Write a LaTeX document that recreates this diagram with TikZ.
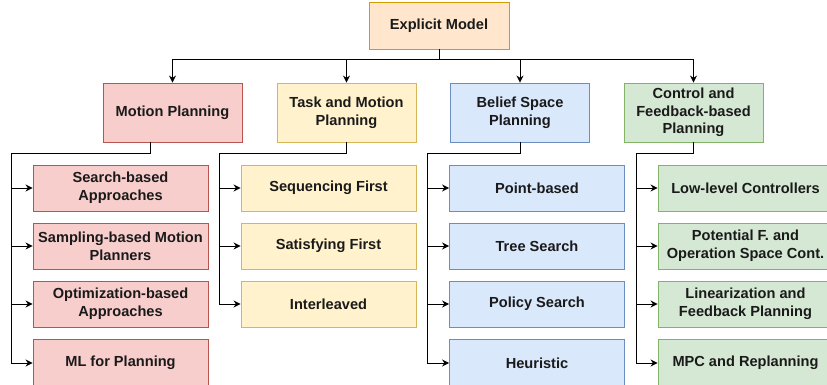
\documentclass[tikz,border=0pt]{standalone}
\usepackage{fontspec}
\setmainfont{Liberation Sans}
\usetikzlibrary{arrows.meta}
\definecolor{rfill}{HTML}{F8CECC}\definecolor{rdraw}{HTML}{B85450}
\definecolor{yfill}{HTML}{FFF2CC}\definecolor{ydraw}{HTML}{D6B656}
\definecolor{bfill}{HTML}{DAE8FC}\definecolor{bdraw}{HTML}{6C8EBF}
\definecolor{gfill}{HTML}{D5E8D4}\definecolor{gdraw}{HTML}{82B366}
\definecolor{ofill}{HTML}{FFE6CC}\definecolor{odraw}{HTML}{D79B00}
\definecolor{txt}{HTML}{1A1A1A}
\begin{document}
\begin{tikzpicture}[x=1pt,y=1pt,
  box/.style={draw, line width=0.9pt, inner sep=0pt, align=center, text=txt,
    font=\fontsize{14.6}{17.6}\selectfont\bfseries},
  red/.style={box, fill=rfill, draw=rdraw},
  yel/.style={box, fill=yfill, draw=ydraw},
  blu/.style={box, fill=bfill, draw=bdraw},
  grn/.style={box, fill=gfill, draw=gdraw},
  top/.style={minimum width=139pt, minimum height=59pt},
  leaf/.style={minimum width=175pt, minimum height=46pt},
  last/.style={minimum width=175pt, minimum height=48pt},
  arr/.style={line width=1pt, draw=black, -{Stealth[length=7pt,width=7pt]}}]
\useasboundingbox (0,0) rectangle (827,-385);
\fill[white] (0,0) rectangle (827,-385);
% root
\node[box, fill=ofill, draw=odraw, minimum width=140pt, minimum height=47pt] (root) at (439,-25.5) {Explicit Model};
% level 1
\node[red, top] (mp) at (172.5,-112.5) {Motion Planning};
\node[yel, top] (tmp) at (346.5,-112.5) {Task and Motion\\Planning};
\node[blu, top] (bsp) at (520,-112.5) {Belief Space\\Planning};
\node[grn, top] (cfp) at (693.5,-112.5) {Control and\\Feedback-based\\Planning};
% motion planning children
\node[red, leaf] (m1) at (120.5,-188) {Search-based\\Approaches};
\node[red, leaf] (m2) at (120.5,-246) {Sampling-based Motion\\Planners};
\node[red, leaf] (m3) at (120.5,-304) {Optimization-based\\Approaches};
\node[red, last] (m4) at (120.5,-363) {ML for Planning};
% task and motion children
\node[yel, leaf] (t1) at (328.5,-188) {Sequencing First};
\node[yel, leaf] (t2) at (328.5,-246) {Satisfying First};
\node[yel, leaf] (t3) at (328.5,-304) {Interleaved};
% belief children
\node[blu, leaf] (b1) at (537,-188) {Point-based};
\node[blu, leaf] (b2) at (537,-246) {Tree Search};
\node[blu, leaf] (b3) at (537,-304) {Policy Search};
\node[blu, last] (b4) at (537,-363) {Heuristic};
% control children
\node[grn, leaf] (c1) at (745.5,-188) {Low-level Controllers};
\node[grn, leaf] (c2) at (745.5,-246) {Potential F. and\\Operation Space Cont.};
\node[grn, leaf] (c3) at (745.5,-304) {Linearization and\\Feedback Planning};
\node[grn, last] (c4) at (745.5,-363) {MPC and Replanning};
% root connectors
\coordinate (rb) at (439,-60);
\foreach \n in {mp,tmp,bsp,cfp}{
  \draw[arr] (root.south) -- (rb) -| (\n.north);
}
% buses
\coordinate (mps) at (150,-142);
\coordinate (mpb) at (11,-153);
\coordinate (tmb) at (219,-153);
\coordinate (bsb) at (427,-153);
\coordinate (cfb) at (636,-153);
\foreach \c in {m1,m2,m3,m4}{\draw[arr] (mps) |- (mpb) |- (\c.west);}
\foreach \c in {t1,t2,t3}{\draw[arr] (tmp.south) |- (tmb) |- (\c.west);}
\foreach \c in {b1,b2,b3,b4}{\draw[arr] (bsp.south) |- (bsb) |- (\c.west);}
\foreach \c in {c1,c2,c3,c4}{\draw[arr] (cfp.south) |- (cfb) |- (\c.west);}
\end{tikzpicture}
\end{document}
